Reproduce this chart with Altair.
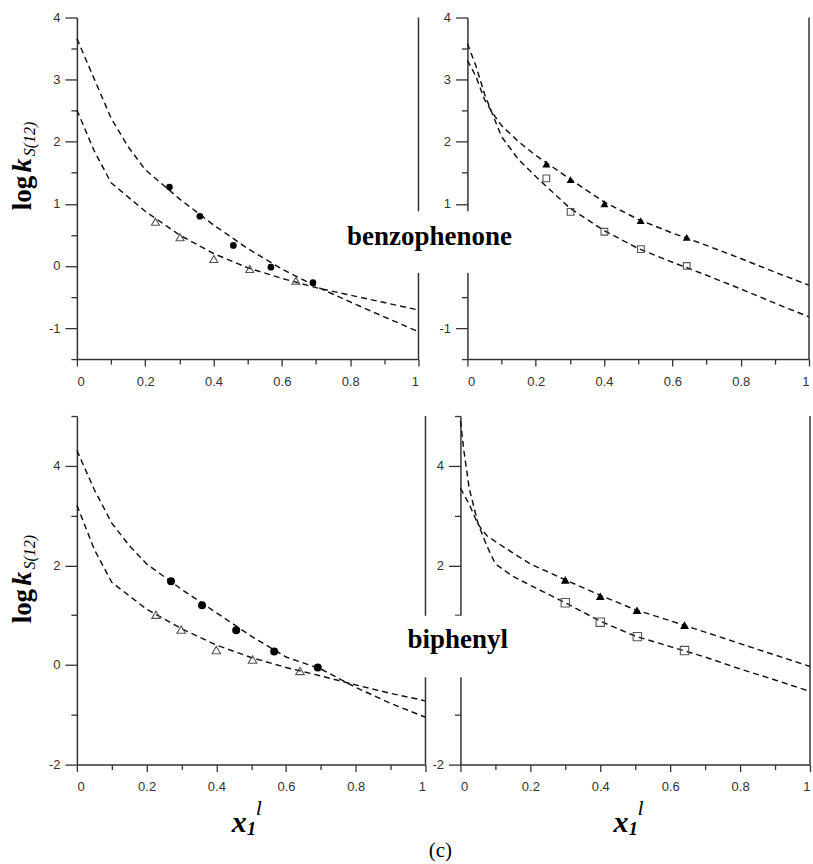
import altair as alt
import pandas as pd

# ---------------- data ----------------
# top-left (benzophenone): fitted curves and measured points
A_x = [0, 0.05, 0.1, 0.15, 0.2, 0.3, 0.4, 0.5, 0.6, 0.7, 0.8, 0.9, 1.0]
A_y = [3.66, 3.02, 2.38, 1.92, 1.55, 1.08, 0.66, 0.28, -0.05, -0.33, -0.58, -0.82, -1.06]
B_x = [0, 0.05, 0.1, 0.2, 0.3, 0.4, 0.5, 0.6, 0.7, 0.8, 0.9, 1.0]
B_y = [2.51, 1.86, 1.34, 0.88, 0.50, 0.20, -0.03, -0.20, -0.35, -0.47, -0.59, -0.71]
TL_circ_x = [0.271, 0.360, 0.458, 0.568, 0.691]
TL_circ_y = [1.27, 0.80, 0.33, -0.02, -0.27]
TL_tri_x = [0.230, 0.302, 0.401, 0.506, 0.641]
TL_tri_y = [0.71, 0.46, 0.11, -0.05, -0.24]

# top-right (benzophenone)
C_x = [0, 0.025, 0.05, 0.075, 0.1, 0.15, 0.2, 0.3, 0.4, 0.5, 0.6, 0.7, 0.8, 0.9, 1.0]
C_y = [3.31, 3.05, 2.68, 2.45, 2.26, 2.00, 1.78, 1.40, 1.03, 0.75, 0.53, 0.33, 0.12, -0.10, -0.31]
D_x = [0, 0.025, 0.05, 0.075, 0.1, 0.15, 0.2, 0.3, 0.4, 0.5, 0.6, 0.7, 0.8, 0.9, 1.0]
D_y = [3.58, 3.22, 2.77, 2.42, 2.08, 1.71, 1.44, 0.93, 0.57, 0.28, 0.06, -0.15, -0.37, -0.60, -0.82]
TR_tri_x = [0.231, 0.302, 0.401, 0.507, 0.642]
TR_tri_y = [1.64, 1.39, 1.00, 0.73, 0.46]
TR_sq_x = [0.231, 0.302, 0.401, 0.508, 0.642]
TR_sq_y = [1.41, 0.87, 0.55, 0.27, 0.00]

# bottom-left (biphenyl)
E_x = [0, 0.05, 0.1, 0.15, 0.2, 0.3, 0.4, 0.5, 0.6, 0.7, 0.8, 0.9, 1.0]
E_y = [4.31, 3.52, 2.85, 2.40, 2.03, 1.52, 1.05, 0.58, 0.16, -0.08, -0.45, -0.77, -1.05]
F_x = [0, 0.05, 0.1, 0.2, 0.3, 0.4, 0.5, 0.6, 0.7, 0.8, 0.9, 1.0]
F_y = [3.21, 2.32, 1.66, 1.12, 0.73, 0.40, 0.15, -0.05, -0.22, -0.40, -0.57, -0.72]
BL_circ_x = [0.270, 0.359, 0.457, 0.566, 0.691]
BL_circ_y = [1.68, 1.20, 0.70, 0.27, -0.05]
BL_tri_x = [0.227, 0.299, 0.400, 0.504, 0.640]
BL_tri_y = [1.01, 0.71, 0.30, 0.11, -0.12]

# bottom-right (biphenyl)
H_x = [0, 0.025, 0.05, 0.075, 0.1, 0.15, 0.2, 0.3, 0.4, 0.5, 0.6, 0.7, 0.8, 0.9, 1.0]
H_y = [3.55, 3.23, 2.83, 2.60, 2.48, 2.25, 2.03, 1.71, 1.40, 1.11, 0.89, 0.66, 0.43, 0.20, -0.03]
G_x = [0, 0.01, 0.025, 0.05, 0.075, 0.1, 0.15, 0.2, 0.3, 0.4, 0.5, 0.6, 0.7, 0.8, 0.9, 1.0]
G_y = [4.90, 4.30, 3.55, 2.85, 2.40, 2.03, 1.78, 1.60, 1.25, 0.88, 0.58, 0.37, 0.16, -0.08, -0.30, -0.53]
BR_tri_x = [0.300, 0.400, 0.505, 0.641]
BR_tri_y = [1.71, 1.38, 1.10, 0.80]
BR_sq_x = [0.300, 0.400, 0.506, 0.641]
BR_sq_y = [1.25, 0.86, 0.57, 0.29]

X_TICKS = [0, 0.1, 0.2, 0.3, 0.4, 0.5, 0.6, 0.7, 0.8, 0.9, 1]
Y_TICKS_TOP = [-1.5, -1, -0.5, 0, 0.5, 1, 1.5, 2, 2.5, 3, 3.5, 4]
Y_TICKS_BOT = [-2, -1, 0, 1, 2, 3, 4, 5]

SERIF = "Liberation Serif"
SANS = "Liberation Sans"

X_MINOR = "abs(datum.value*5 - round(datum.value*5)) > 0.001"
YT_MINOR = "abs(datum.value - round(datum.value)) > 0.001"
YB_MINOR = "abs(datum.value/2 - round(datum.value/2)) > 0.001"


def enc_x():
    return alt.X(
        "x:Q",
        scale=alt.Scale(domain=[0, 1], nice=False, zero=False),
        axis=alt.Axis(
            values=X_TICKS,
            title="",
            labelExpr=f"({X_MINOR}) ? '' : '' + datum.value",
            tickSize={"condition": {"test": X_MINOR, "value": 5}, "value": 7},
            labelPadding=9,
        ),
    )


def enc_y(domain, ticks, minor):
    return alt.Y(
        "y:Q",
        scale=alt.Scale(domain=domain, nice=False, zero=False),
        axis=alt.Axis(
            values=ticks,
            title="",
            labelExpr=f"({minor}) ? '' : '' + datum.value",
            tickSize={"condition": {"test": minor, "value": 6}, "value": 12},
            labelPadding=5,
        ),
    )


def one(v="a"):
    return pd.DataFrame({"t": [v]})


def txt(s, x, y, size, weight="normal", style="normal", angle=0, align="left"):
    kw = dict(font=SERIF, fontSize=size, fontWeight=weight, fontStyle=style,
              align=align, baseline="alphabetic", color="black")
    if angle:
        kw["angle"] = angle
    return alt.Chart(one(s)).mark_text(**kw).encode(
        text="t:N", x=alt.value(x), y=alt.value(y))


def ghost(x1, x2, y1, y2):
    # invisible box used only to pin the layout bounds
    return alt.Chart(one()).mark_rect(opacity=0).encode(
        x=alt.value(x1), x2=alt.value(x2), y=alt.value(y1), y2=alt.value(y2))


def panel(curves, pts, ydomain, yticks, yminor, w, h, extra):
    xe = enc_x()
    ye = enc_y(ydomain, yticks, yminor)
    rows = []
    for name, xs, ys in curves:
        for a, b in zip(xs, ys):
            rows.append({"x": a, "y": b, "s": name})
    lines = alt.Chart(pd.DataFrame(rows)).mark_line(
        strokeDash=[6, 4], color="#111", strokeWidth=1.45
    ).encode(x=xe, y=ye, detail="s:N")
    layers = [lines]
    for xs, ys, style in pts:
        df = pd.DataFrame({"x": xs, "y": ys})
        layers.append(alt.Chart(df).mark_point(**style).encode(x=xe, y=ye))
    border = alt.Chart(one()).mark_rule(color="#333", strokeWidth=1.5).encode(
        x=alt.value(w), y=alt.value(0), y2=alt.value(h))
    layers.append(border)
    layers += extra
    return alt.layer(*layers).properties(width=w, height=h)


filled_circle_s = dict(shape="circle", filled=True, color="black", size=45, opacity=1)
open_tri_s = dict(shape="triangle-up", filled=False, color="#555", size=64, strokeWidth=1.1, opacity=1)
filled_tri_s = dict(shape="triangle-up", filled=True, color="black", size=64, opacity=1)
open_sq_s = dict(shape="square", filled=False, color="#555", size=45, strokeWidth=1.1, opacity=1)


def ytitle(start):
    return [
        txt("log", -46, start, 27, weight="bold", angle=270),
        txt("k", -46, start - 38, 28, weight="bold", style="italic", angle=270),
        txt("S(12)", -41.5, start - 54, 16, style="italic", angle=270),
    ]


def xtitle(x0):
    return [
        txt("x", x0, 416, 30, weight="bold", style="italic"),
        txt("1", x0 + 15, 419.5, 19, weight="bold", style="italic"),
        txt("l", x0 + 24, 399.5, 22, style="italic"),
    ]


TL = panel(
    [("A", A_x, A_y), ("B", B_x, B_y)],
    [(TL_circ_x, TL_circ_y, filled_circle_s), (TL_tri_x, TL_tri_y, open_tri_s)],
    [-1.5, 4], Y_TICKS_TOP, YT_MINOR, 342, 342,
    [ghost(-77, 0, -17, 0), ghost(0, 1, 342, 380)] + ytitle(193),
)

TR_box = alt.Chart(one()).mark_rect(color="white").encode(
    x=alt.value(-60), x2=alt.value(6), y=alt.value(194), y2=alt.value(255.7))
TR = panel(
    [("C", C_x, C_y), ("D", D_x, D_y)],
    [(TR_tri_x, TR_tri_y, filled_tri_s), (TR_sq_x, TR_sq_y, open_sq_s)],
    [-1.5, 4], Y_TICKS_TOP, YT_MINOR, 342, 342,
    [TR_box, txt("benzophenone", -38, 227.5, 27, weight="bold", align="center")],
)

bl_circle = dict(filled_circle_s, size=64)
bl_tri = dict(open_tri_s, size=72)
BL = panel(
    [("E", E_x, E_y), ("F", F_x, F_y)],
    [(BL_circ_x, BL_circ_y, bl_circle), (BL_tri_x, BL_tri_y, bl_tri)],
    [-2, 5], Y_TICKS_BOT, YB_MINOR, 349, 349,
    [ghost(-77, 0, -10, 0)] + ytitle(207.6) + xtitle(155),
)

BR_box = alt.Chart(one()).mark_rect(color="white").encode(
    x=alt.value(-45), x2=alt.value(6), y=alt.value(200), y2=alt.value(261.6))
br_tri = dict(filled_tri_s, size=78)
br_sq = dict(open_sq_s, size=70)
BR = panel(
    [("H", H_x, H_y), ("G", G_x, G_y)],
    [(BR_tri_x, BR_tri_y, br_tri), (BR_sq_x, BR_sq_y, br_sq)],
    [-2, 5], Y_TICKS_BOT, YB_MINOR, 350, 349,
    [BR_box, txt("biphenyl", -2.7, 232.6, 27, weight="bold", align="center")]
    + xtitle(153.3)
    + [txt("(c)", -31.7, 441.3, 21)],
)

top = alt.hconcat(TL, TR, spacing=49, bounds="flush")
bottom = alt.hconcat(BL, BR, spacing=35, bounds="flush")

# top row bounds end at 17+380 = 397; bottom row bounds start 10 above its plot (415.7)
chart = (
    alt.vconcat(top, bottom, spacing=9)
    .properties(padding=0)
    .configure_view(strokeWidth=0, stroke="transparent")
    .configure_axis(
        grid=False,
        labelFont=SANS,
        labelFontSize=13,
        labelColor="#333",
        domainColor="#333",
        tickColor="#333",
        domainWidth=1.5,
        tickWidth=1.3,
    )
)

chart.save("out.html", embed_options={"renderer": "svg", "actions": False})
